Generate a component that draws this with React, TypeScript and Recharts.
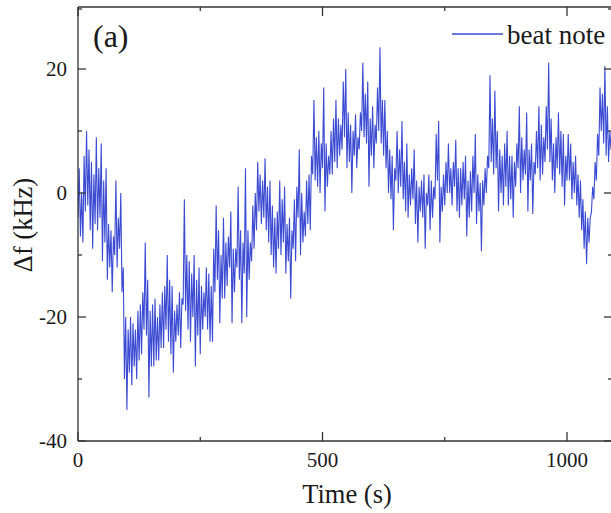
import { Legend, Line, LineChart, XAxis, YAxis } from "recharts";

// beat note frequency offset (kHz), one reading every STEP seconds
const STEP = 2.5;
const beatNote = [
  -4, 4, -7, 0, -8, 6, -3, 10, -2, 7, -6, 5, -9, 3, -5, 9, -6, 4, -4, 8,
  -11, 2, -8, 4, -14, -5, -12, -6, -16, -7, -10, 2, -12, -4, -9, 0, -16, -12, -30, -20,
  -35, -22, -29, -20, -31, -21, -28, -22, -30, -19, -27, -18, -26, -16, -22, -8, -23, -14, -33, -19,
  -28, -18, -28, -17, -27, -20, -27, -18, -25, -16, -25, -15, -22, -10, -24, -14, -26, -15, -29, -19,
  -24, -18, -23, -16, -25, -17, -18, -1, -19, -10, -22, -11, -24, -13, -20, -10, -28, -14, -23, -12,
  -26, -15, -22, -16, -20, -12, -22, -13, -24, -15, -24, -9, -16, -2, -14, -6, -21, -10, -17, -4,
  -17, -8, -15, -7, -12, -3, -21, -9, -16, -9, -12, 1, -14, -6, -21, -8, -13, 4, -20, -6,
  -14, -8, -11, -2, -9, 0, -6, 5, -3, 3, -5, 2, -4, 5.6, -6, 1, -8, 2, -10, -2,
  -12, -4, -13, -3, -9, 2, -10, -1, -8, 1, -13, -5, -11, -4, -17, -6, -9, -1, -11, 1,
  -4, 7, -10, 0, -8, -3, -7, 2, -5, 3, -6, 6, 3, 15, 2, 9, 1, 10, 0, 8,
  4, 17, -3, 8, 1, 6, 3, 10, 3, 12, 5, 15, 4, 12, 6, 11, 7, 18, 9, 20,
  4, 13, 5, 11, 0, 10, 6, 12.7, 4, 9, 7, 13, 10, 21, 9, 16, 8, 18, 1, 12,
  6, 14, 4, 11, 8, 17, 10, 23.5, 8, 15, 6, 15, 4, 10, 0, 7, -1, 6, -6, 4,
  2, 10, 0, 7, 1, 11.6, -1, 5, -3, 8, -4, 3, -2, 4, -1, 7, -5, 2, -8, 1,
  -3, 2, -4, 3, -9, 0, -2, 3, -6, 2, -4, 1, -1, 9.5, 2, 11.6, -8, 1, -3, 3,
  -2, 5, 0, 8, 0, 4, -2, 5, 1, 8.6, -3, 4, -4, 4, -2, 5, -1, 6, -7, 2,
  -4, 3.5, -3, 6, 0, 9.5, -5, 3, -3, 1.6, -9.4, 2, -2, 4, 0, 6, 4, 19, 5, 12,
  3, 16.5, 4, 10, -3, 7, 0, 6, -2, 8, 1, 10, -2, 6, -1, 6, -4, 5, 1, 8,
  4, 14, 0, 9, 2, 7, 3, 13, -3, 7, 2, 8, -3.4, 5, 3, 10, 4, 14, 2, 11,
  3, 9, 5, 14, 7, 21, 5, 12, 2, 8, 0, 9, 4, 13, 3, 10, 1, 9.5, -2, 6,
  2, 9.5, 2, 8, -1, 5, 0, 6, -2, 3, -4, 2, -6, -1, -9, -3, -11.5, -4, -8, -4,
  -3, 1, -1, 5, 2, 9.5, 6, 17, 10, 16, 8, 20.5, 6, 14, 5, 10, 7, 12,
];

const xTicks = [0, 250, 500, 750, 1000];
const xLabels = [0, 500, 1000];
const yTicks = [-40, -30, -20, -10, 0, 10, 20, 30];
const yLabels = [-40, -20, 0, 20];

const data = beatNote.map((v, i) => ({ t: i * STEP, v }));

const BLUE = "#3b4bd3";
const INK = "#1a1a1a";
const AXIS = "#333";
const SERIF = '"Liberation Serif", "Times New Roman", serif';

function BottomTick({ x, y, payload }: any) {
  const major = xLabels.includes(payload.value);
  return (
    <g>
      <line x1={x} x2={x} y1={y} y2={y - (major ? 9 : 4)} stroke={AXIS} strokeWidth={1.3} />
      {major && (
        <text x={x} y={y + 26} textAnchor="middle" fontSize={21} fontFamily={SERIF} fill={INK}>
          {payload.value}
        </text>
      )}
    </g>
  );
}

function TopTick({ x, y, payload }: any) {
  const major = xLabels.includes(payload.value);
  return <line x1={x} x2={x} y1={y} y2={y + (major ? 9 : 4)} stroke={AXIS} strokeWidth={1.3} />;
}

function LeftTick({ x, y, payload }: any) {
  const major = yLabels.includes(payload.value);
  return (
    <g>
      <line x1={x} x2={x + (major ? 8 : 4)} y1={y} y2={y} stroke={AXIS} strokeWidth={1.3} />
      {major && (
        <text x={x - 11} y={y + 7} textAnchor="end" fontSize={21} fontFamily={SERIF} fill={INK}>
          {payload.value}
        </text>
      )}
    </g>
  );
}

function RightTick({ x, y, payload }: any) {
  const major = yLabels.includes(payload.value);
  return <line x1={x} x2={x - (major ? 8 : 4)} y1={y} y2={y} stroke={AXIS} strokeWidth={1.3} />;
}

export default function App() {
  return (
    <div
      style={{
        position: "absolute",
        left: 0,
        top: 0,
        width: 611,
        height: 513,
        overflow: "hidden",
        background: "#fff",
      }}
    >
      <LineChart width={620} height={513} data={data} margin={{ top: 0, right: 0, bottom: 0, left: 0 }}>
        <XAxis
          xAxisId="b"
          dataKey="t"
          type="number"
          domain={[0, 1092]}
          allowDataOverflow
          ticks={xTicks}
          height={72}
          tickSize={0}
          tickMargin={0}
          tickLine={false}
          axisLine={{ stroke: AXIS, strokeWidth: 1.3 }}
          tick={BottomTick}
          label={() => (
            <text x={347} y={503} textAnchor="middle" fontSize={26.5} fontFamily={SERIF} fill={INK}>
              Time (s)
            </text>
          )}
        />
        <XAxis
          xAxisId="t"
          orientation="top"
          dataKey="t"
          type="number"
          domain={[0, 1092]}
          allowDataOverflow
          ticks={xTicks}
          height={7}
          tickSize={0}
          tickMargin={0}
          tickLine={false}
          axisLine={{ stroke: AXIS, strokeWidth: 1.3 }}
          tick={TopTick}
        />
        <YAxis
          yAxisId="l"
          type="number"
          domain={[-40, 30]}
          allowDataOverflow
          ticks={yTicks}
          width={78}
          tickSize={0}
          tickMargin={0}
          tickLine={false}
          axisLine={{ stroke: AXIS, strokeWidth: 1.3 }}
          tick={LeftTick}
          label={() => (
            <text
              x={32}
              y={225}
              transform="rotate(-90 32 225)"
              textAnchor="middle"
              fontSize={26.5}
              fontFamily={SERIF}
              fill={INK}
            >
              Δf (kHz)
            </text>
          )}
        />
        <YAxis
          yAxisId="r"
          orientation="right"
          type="number"
          domain={[-40, 30]}
          allowDataOverflow
          ticks={yTicks}
          width={8}
          tickSize={0}
          tickMargin={0}
          tickLine={false}
          axisLine={{ stroke: AXIS, strokeWidth: 1.3 }}
          tick={RightTick}
        />
        <Legend
          layout="vertical"
          align="center"
          verticalAlign="middle"
          wrapperStyle={{ position: "absolute", left: 0, top: 0, width: 620, height: 60 }}
          content={() => (
            <svg width={620} height={60} style={{ display: "block" }}>
              <text x={93} y={47} fontSize={32} fontFamily={SERIF} fill={INK}>
                (a)
              </text>
              <line x1={452} x2={503} y1={34} y2={34} stroke={BLUE} strokeWidth={1.5} />
              <text x={507} y={44} fontSize={27} fontFamily={SERIF} fill={INK}>
                beat note
              </text>
            </svg>
          )}
        />
        <Line
          xAxisId="b"
          yAxisId="l"
          type="linear"
          dataKey="v"
          stroke={BLUE}
          strokeWidth={1.1}
          dot={false}
          isAnimationActive={false}
        />
      </LineChart>
    </div>
  );
}
